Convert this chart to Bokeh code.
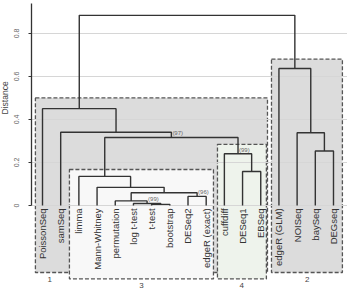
import math
from bokeh.plotting import figure
from bokeh.layouts import row
from bokeh.models import Range1d, FixedTicker, LinearAxis, ColumnDataSource
from bokeh.core.properties import value
from bokeh.embed import file_html
from bokeh.resources import INLINE

# ---- data ----
leaves = ["PoissonSeq", "samSeq", "limma", "Mann-Whitney", "permutation",
          "log t-test", "t-test", "bootstrap", "DESeq2", "edgeR (exact)",
          "cuffdiff", "DESeq1", "EBSeq", "edgeR (GLM)", "NOISeq", "baySeq", "DEGseq"]

# merges: (left child, right child, height); children are leaf names or "m<i>"
merge_left = ["t-test", "log t-test", "permutation", "DESeq2", "m2", "Mann-Whitney",
              "limma", "DESeq1", "cuffdiff", "m6", "samSeq", "PoissonSeq",
              "baySeq", "NOISeq", "edgeR (GLM)", "m11"]
merge_right = ["bootstrap", "m0", "m1", "edgeR (exact)", "m3", "m4",
               "m5", "EBSeq", "m7", "m8", "m9", "m10",
               "DEGseq", "m12", "m13", "m14"]
merge_height = [0.005, 0.009, 0.021, 0.042, 0.059, 0.084,
                0.135, 0.158, 0.240, 0.316, 0.340, 0.450,
                0.253, 0.338, 0.637, 0.884]

# bootstrap values shown on some merges
boot_node = ["m9", "m8", "m3", "m1"]
boot_text = ["(97)", "(99)", "(96)", "(99)"]

# cluster boxes
cl_name = ["1", "2", "3", "4"]
cl_left = [-0.39, 12.59, 1.48, 9.62]
cl_right = [12.37, 16.49, 9.40, 12.31]
cl_top = [0.50, 0.68, 0.167, 0.284]
cl_bottom = [-0.312, -0.312, -0.342, -0.342]
cl_fill = ["#dcdcdc", "#dcdcdc", "#f8f8f8", "#eef3ec"]
cl_label_x = [0.4, 14.55, 5.44, 10.96]

y_ticks = [0.0, 0.2, 0.4, 0.6, 0.8]
y_title = "Distance"
y_title_pos = 0.5

# ---- layout of dendrogram ----
pos = {name: float(i) for i, name in enumerate(leaves)}
hgt = {name: 0.0 for name in leaves}
xs, ys = [], []
for i, (a, b, h) in enumerate(zip(merge_left, merge_right, merge_height)):
    xa, xb = pos[a], pos[b]
    xs.append([xa, xa, xb, xb])
    ys.append([hgt[a], h, h, hgt[b]])
    pos["m%d" % i] = (xa + xb) / 2
    hgt["m%d" % i] = h

yr = Range1d(-0.391, 0.953)

# narrow strip holding the y-axis title
t = figure(frame_width=9, frame_height=289, output_backend="svg", toolbar_location=None,
           x_range=Range1d(0, 1), y_range=yr, x_axis_location=None, y_axis_location=None,
           min_border_left=0, min_border_right=0, min_border_top=0, min_border_bottom=0)
t.outline_line_color = None
t.grid.visible = False
t.text(x=[0.5], y=[y_title_pos], text=[y_title], angle=math.pi / 2,
       text_align="center", text_baseline="middle",
       text_font=value("Liberation Sans"), text_font_size="8.5px", text_color="#444444")

p = figure(frame_width=316, frame_height=289, output_backend="svg", toolbar_location=None,
           x_range=Range1d(-0.605, 16.77), y_range=yr,
           x_axis_location=None, y_axis_location=None,
           min_border_left=22, min_border_right=0, min_border_top=0, min_border_bottom=0)
p.outline_line_color = None
p.xgrid.visible = False

# axis
ax = LinearAxis(ticker=FixedTicker(ticks=y_ticks), bounds=(0, 0.94))
ax.axis_line_color = "#333333"
ax.axis_line_width = 1.3
ax.major_tick_line_color = "#333333"
ax.major_tick_in = 0
ax.major_tick_out = 3
ax.minor_tick_line_color = None
ax.major_label_orientation = "vertical"
ax.major_label_text_font = "Liberation Sans"
ax.major_label_text_font_size = "7px"
ax.major_label_text_color = "#666666"
ax.major_label_standoff = 9
p.add_layout(ax, "left")

p.ygrid.ticker = FixedTicker(ticks=y_ticks)
p.ygrid.grid_line_color = "#d6d6d6"
p.ygrid.grid_line_width = 1
p.ygrid.level = "glyph"

# cluster boxes
src_cl = ColumnDataSource(dict(l=cl_left, r=cl_right, t=cl_top, b=cl_bottom, c=cl_fill))
rr = p.quad(left="l", right="r", top="t", bottom="b", source=src_cl,
            fill_color="c", line_color="#555555", line_width=1.3, line_dash="4 2")
rr.level = "underlay"
p.text(x=cl_label_x, y=cl_bottom, text=cl_name, text_font=value("Liberation Sans"),
       text_font_size="8px", text_color=value("#444444"), text_align="center",
       text_baseline="top", y_offset=4)

# dendrogram
ml = p.multi_line(xs=xs, ys=ys, line_color="#333333", line_width=1.4)
ml.level = "annotation"

# leaf labels
p.text(x=list(range(len(leaves))), y=[0.0] * len(leaves), text=leaves,
       angle=math.pi / 2, text_align="right", text_baseline="middle",
       y_offset=3, text_font=value("Liberation Sans"), text_font_size="9.5px",
       text_color="#333333")

# bootstrap labels
p.text(x=[pos[n] for n in boot_node], y=[hgt[n] for n in boot_node], text=boot_text,
       text_align="left", text_baseline="bottom", x_offset=1, y_offset=-1,
       text_font=value("Liberation Sans"), text_font_size="6px", text_color="#666666")

layout = row(t, p, spacing=0)
open("out.html", "w").write(file_html(layout, INLINE))
